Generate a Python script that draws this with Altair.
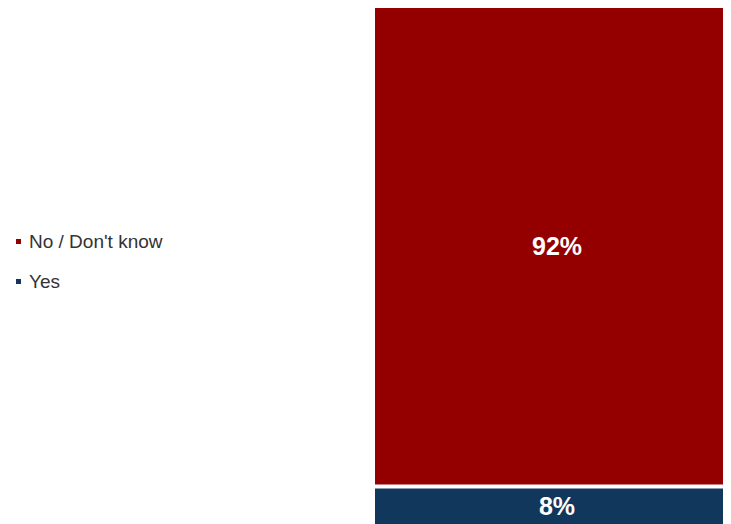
import altair as alt
import pandas as pd

categories = ["No / Don't know", "Yes"]
values = [92, 8]
stack_order = [1, 0]
labels = ["92%", "8%"]
colors = ["#940000", "#12375c"]
question = ["Q", "Q"]

df = pd.DataFrame({
    "q": question,
    "answer": categories,
    "value": values,
    "ord": stack_order,
    "label": labels,
})

W, H = 348, 520
yscale = alt.Scale(domain=[0, 100], nice=False, zero=True)
xenc = alt.X("q:N", axis=None, scale=alt.Scale(paddingInner=0, paddingOuter=0))

base = alt.Chart(df)

bars = base.mark_bar().encode(
    x=xenc,
    y=alt.Y("value:Q", stack="zero", axis=None, scale=yscale),
    color=alt.Color(
        "answer:N",
        scale=alt.Scale(domain=categories, range=colors),
        legend=alt.Legend(
            title=None,
            orient="none",
            legendX=-366,
            legendY=224,
            symbolType="square",
            symbolSize=25,
            symbolStrokeWidth=0,
            labelFontSize=19,
            labelFont="Liberation Sans",
            labelColor="#333333",
            rowPadding=20,
            labelOffset=1,
            padding=0,
        ),
    ),
    order=alt.Order("ord:Q"),
)

stacked = base.transform_stack(
    stack="value", groupby=["q"], as_=["y0", "y1"], sort=[alt.SortField("ord")]
)

gap = stacked.transform_filter("datum.ord == 0").mark_rule(
    color="white", strokeWidth=4
).encode(y=alt.Y("y1:Q", axis=None, scale=yscale))

text = (
    stacked.transform_calculate(mid="(datum.y0 + datum.y1) / 2")
    .mark_text(
        font="Liberation Sans", fontSize=25, fontWeight="bold", color="white",
        baseline="middle", align="center", dx=8, dy=0,
    )
    .encode(
        x=xenc,
        y=alt.Y("mid:Q", axis=None, scale=yscale),
        text="label:N",
    )
)

chart = (
    alt.layer(bars, gap, text)
    .properties(
        width=W,
        height=H,
        autosize=alt.AutoSizeParams(type="none"),
        padding={"left": 367, "top": 0, "right": 0, "bottom": 0},
    )
    .configure_view(stroke=None)
)

chart.save("out.html", embed_options={"renderer": "svg", "actions": False})
